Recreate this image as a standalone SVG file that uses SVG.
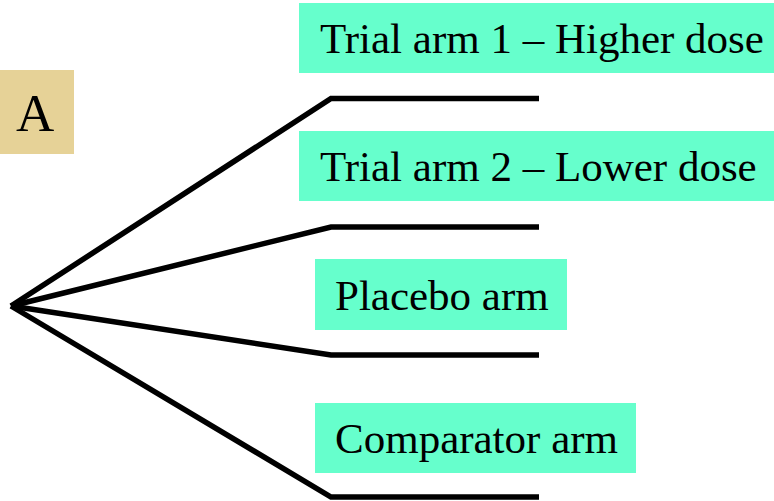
<svg xmlns="http://www.w3.org/2000/svg" width="774" height="501" viewBox="0 0 774 501">
  <style>
    .arm { fill: #66FFCC; }
    .lbl { font-family: "Liberation Serif", "Times New Roman", serif; font-size: 43px; fill: #000; }
    .branch { fill: none; stroke: #000; stroke-width: 5.5; stroke-linejoin: miter; }
  </style>
  <rect width="774" height="501" fill="#fff"/>

  <!-- randomisation group label -->
  <g id="group-a">
    <rect x="0" y="70" width="74" height="84" fill="#E6D297"/>
    <text class="lbl" x="16" y="131" style="font-size:53px">A</text>
  </g>

  <!-- branches from the common origin out to each arm -->
  <g id="connectors">
    <polyline class="branch" points="11,306 331,98.5 539,98.5"/>
    <polyline class="branch" points="11,306 331,227 539,227"/>
    <polyline class="branch" points="11,306 331,355 539,355"/>
    <polyline class="branch" points="11,306 331,497 539,497"/>
  </g>

  <g id="arm-1">
    <rect class="arm" x="299" y="3" width="475" height="70"/>
    <text class="lbl" x="320" y="53">Trial arm 1 – Higher dose</text>
  </g>
  <g id="arm-2">
    <rect class="arm" x="299" y="131" width="475" height="70"/>
    <text class="lbl" x="320" y="181">Trial arm 2 – Lower dose</text>
  </g>
  <g id="arm-placebo">
    <rect class="arm" x="315" y="259" width="252" height="71"/>
    <text class="lbl" x="335" y="310">Placebo arm</text>
  </g>
  <g id="arm-comparator">
    <rect class="arm" x="315" y="403" width="321" height="70"/>
    <text class="lbl" x="335" y="453">Comparator arm</text>
  </g>
</svg>
